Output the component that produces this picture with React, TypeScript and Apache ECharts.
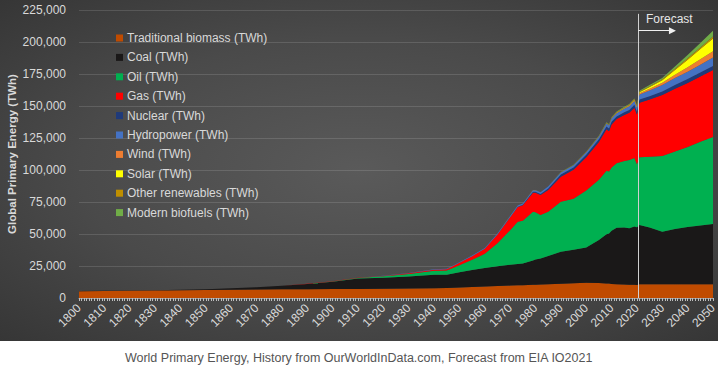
import React, { useEffect, useRef } from "react";
import * as echarts from "echarts";

const years = [
  1800, 1810, 1820, 1830, 1840, 1850, 1860, 1870, 1880, 1890,
  1900, 1910, 1920, 1930, 1940, 1945, 1950, 1955, 1960, 1965,
  1970, 1973, 1975, 1979, 1980, 1982, 1985, 1990, 1995, 2000,
  2005, 2008, 2009, 2010, 2012, 2015, 2017, 2019, 2020, 2021,
  2025, 2030, 2035, 2040, 2045, 2050,
];

const traditionalBiomass = [
  5300, 5500, 5700, 5900, 6100, 6300, 6500, 6700, 6800, 6900,
  7000, 7100, 7200, 7400, 7700, 7900, 8200, 8600, 9000, 9400,
  9700, 9900, 10000, 10300, 10400, 10500, 10800, 11200, 11600, 12000,
  11800, 11400, 11300, 11000, 10800, 10500, 10400, 10300, 10200, 10700,
  10700, 10700, 10700, 10700, 10700, 10700,
];
const coal = [
  100, 130, 170, 250, 350, 570, 1100, 1700, 2800, 4000,
  5700, 8100, 8700, 9300, 10500, 10300, 12000, 13300, 14500, 15400,
  16300, 16600, 16900, 19000, 19600, 20300, 22000, 25000, 26000, 27500,
  33500, 38500, 39000, 41500, 44000, 44500, 44000, 45500, 45000, 46300,
  44300, 41100, 43200, 44800, 46000, 47100,
];
const oil = [
  0, 0, 0, 0, 0, 0, 0, 10, 50, 100,
  230, 500, 1100, 2100, 3100, 3300, 5400, 8000, 11000, 18000,
  27000, 33000, 33500, 38000, 37000, 34000, 34500, 39000, 40000, 44500,
  47000, 49500, 48500, 49500, 50500, 52000, 53400, 53600, 49200, 53000,
  55400, 59100, 60600, 62500, 65300, 68000,
];
const gas = [
  0, 0, 0, 0, 0, 0, 0, 0, 0, 50,
  70, 150, 250, 500, 800, 1000, 2000, 2800, 4000, 6800,
  10000, 11500, 12000, 15000, 15200, 15600, 17000, 19600, 22500, 26000,
  29500, 32500, 31500, 33500, 34500, 36000, 37000, 39300, 39000, 42500,
  44600, 47700, 49000, 50000, 51000, 52300,
];
const nuclear = [
  0, 0, 0, 0, 0, 0, 0, 0, 0, 0,
  0, 0, 0, 0, 0, 0, 0, 0, 0, 20,
  150, 300, 400, 700, 750, 900, 1300, 1650, 1850, 2000,
  2150, 2150, 2150, 2150, 2000, 2050, 2100, 2200, 2150, 2500,
  2650, 2800, 2900, 3000, 3100, 3200,
];
const hydropower = [
  0, 0, 0, 0, 0, 0, 0, 0, 0, 0,
  30, 60, 120, 200, 280, 320, 400, 500, 600, 750,
  900, 1000, 1050, 1200, 1250, 1300, 1450, 1600, 1750, 1900,
  2100, 2300, 2300, 2500, 2600, 2800, 2900, 3000, 3100, 4000,
  4500, 5000, 5400, 5800, 6200, 6500,
];
const wind = [
  0, 0, 0, 0, 0, 0, 0, 0, 0, 0,
  0, 0, 0, 0, 0, 0, 0, 0, 0, 0,
  0, 0, 0, 0, 0, 0, 0, 5, 15, 20,
  70, 150, 180, 220, 350, 450, 550, 650, 700, 1000,
  1400, 1800, 2600, 3400, 4200, 5000,
];
const solar = [
  0, 0, 0, 0, 0, 0, 0, 0, 0, 0,
  0, 0, 0, 0, 0, 0, 0, 0, 0, 0,
  0, 0, 0, 0, 0, 0, 0, 0, 0, 0,
  5, 15, 25, 40, 100, 170, 250, 330, 380, 700,
  1300, 2000, 3800, 6000, 8000, 10000,
];
const otherRenewables = [
  0, 0, 0, 0, 0, 0, 0, 0, 0, 0,
  0, 0, 0, 0, 0, 0, 0, 0, 0, 0,
  50, 60, 70, 90, 100, 110, 140, 200, 240, 280,
  330, 370, 380, 400, 420, 450, 480, 500, 520, 600,
  650, 700, 900, 1100, 1300, 1500,
];
const modernBiofuels = [
  0, 0, 0, 0, 0, 0, 0, 0, 0, 0,
  0, 0, 0, 0, 0, 0, 0, 0, 0, 0,
  0, 0, 0, 0, 0, 0, 0, 100, 120, 150,
  250, 350, 380, 400, 420, 450, 480, 500, 480, 700,
  850, 1000, 1700, 2500, 3500, 4500,
];

const seriesNames = [
  "Traditional biomass (TWh)",
  "Coal (TWh)",
  "Oil (TWh)",
  "Gas (TWh)",
  "Nuclear (TWh)",
  "Hydropower (TWh)",
  "Wind (TWh)",
  "Solar (TWh)",
  "Other renewables (TWh)",
  "Modern biofuels (TWh)",
];

const seriesColors = [
  "#C04B00", "#1A1818", "#00B050", "#FF0000", "#1F3A7A",
  "#4472C4", "#ED7D31", "#FFFF00", "#BF8F00", "#70AD47",
];

const forecastYear = 2020.6;
const forecastLineTop = 222000;
const arrowLevel = 208800;
const arrowEndYear = 2034;

const caption = "World Primary Energy, History from OurWorldInData.com, Forecast from EIA IO2021";
const yAxisTitle = "Global Primary Energy (TWh)";

export default function App() {
  const ref = useRef<HTMLDivElement>(null);

  useEffect(() => {
    if (!ref.current) return;
    const chart = echarts.init(ref.current, null, { renderer: "svg" });
    const allValues = [
      traditionalBiomass, coal, oil, gas, nuclear,
      hydropower, wind, solar, otherRenewables, modernBiofuels,
    ];
    const font = "'Liberation Sans', Arial, sans-serif";
    const series: any[] = allValues.map((vals, i) => ({
      name: seriesNames[i],
      type: "line",
      stack: "total",
      // value first so that the stacked dimension is the energy value
      data: years.map((y, j) => [vals[j], y]),
      encode: { x: 1, y: 0 },
      symbol: "none",
      showSymbol: false,
      lineStyle: { width: 0, color: seriesColors[i] },
      itemStyle: { color: seriesColors[i] },
      areaStyle: { color: seriesColors[i], opacity: 1 },
      emphasis: { disabled: true },
      silent: true,
    }));
    series[series.length - 1].markLine = {
      silent: true,
      symbol: "none",
      animation: false,
      label: { show: false },
      emphasis: { disabled: true },
      data: [
        [
          { coord: [forecastYear, 0], symbol: "none", lineStyle: { color: "#d0d0d0", width: 1, type: "solid" } },
          { coord: [forecastYear, forecastLineTop], symbol: "none" },
        ],
        [
          { coord: [forecastYear, arrowLevel], symbol: "none", lineStyle: { color: "#f0f0f0", width: 1, type: "solid" } },
          { coord: [arrowEndYear, arrowLevel], symbol: "triangle", symbolSize: [7, 7] },
        ],
      ],
    };

    chart.setOption({
      animation: false,
      backgroundColor: "transparent",
      textStyle: { fontFamily: font },
      grid: { left: 79, right: 5, top: 10, bottom: 72, containLabel: false, outerBoundsMode: "none" },
      legend: {
        show: true,
        orient: "vertical",
        left: 111,
        top: 26,
        itemWidth: 7,
        itemHeight: 7,
        itemGap: 5.4,
        icon: "rect",
        data: seriesNames,
        textStyle: { color: "#d9d9d9", fontSize: 12, fontFamily: font, lineHeight: 14, padding: [0, 0, 0, -1] },
        selectedMode: false,
      },
      xAxis: {
        type: "value",
        min: 1800,
        max: 2050,
        interval: 10,
        axisLine: { show: true, lineStyle: { color: "#9a9a9a", width: 1 } },
        axisTick: { show: true, length: 3, lineStyle: { color: "#bdbdbd" } },
        minorTick: { show: true, splitNumber: 10, length: 3, lineStyle: { color: "#bdbdbd" } },
        splitLine: { show: false },
        axisLabel: {
          rotate: 45,
          color: "#d9d9d9",
          fontSize: 12,
          fontFamily: font,
          margin: 8,
          formatter: (v: number) => String(v),
          showMinLabel: true,
          showMaxLabel: true,
        },
      },
      yAxis: {
        type: "value",
        min: 0,
        max: 225000,
        interval: 25000,
        name: yAxisTitle,
        nameLocation: "middle",
        nameGap: 61,
        nameMoveOverlap: false,
        nameTextStyle: { color: "#d9d9d9", fontSize: 11.5, fontWeight: "bold", fontFamily: font },
        axisLine: { show: false },
        axisTick: { show: false },
        splitLine: { show: true, lineStyle: { color: "rgba(255,255,255,0.13)", width: 1 } },
        axisLabel: {
          color: "#d9d9d9",
          fontSize: 12,
          fontFamily: font,
          margin: 13,
          formatter: (v: number) => v.toLocaleString("en-US"),
        },
      },
      graphic: [
        {
          type: "text",
          left: 646,
          top: 13,
          silent: true,
          style: { text: "Forecast", fill: "#e6e6e6", fontSize: 12, fontFamily: font },
        },
        {
          type: "text",
          left: "center",
          top: 351,
          silent: true,
          style: { text: caption, fill: "#555555", fontSize: 12.5, fontFamily: font },
        },
      ],
      series,
    });
    return () => chart.dispose();
  }, []);

  return (
    <div style={{ position: "absolute", left: 0, top: 0, width: 718, height: 370, background: "#ffffff" }}>
      <div
        style={{
          position: "absolute",
          left: 0,
          top: 0,
          width: 718,
          height: 341,
          background: "radial-gradient(ellipse at 50% 50%, #5a5a5a 0%, #4a4a4a 55%, #363636 100%)",
        }}
      />
      <div ref={ref} style={{ position: "absolute", left: 0, top: 0, width: 718, height: 370 }} />
    </div>
  );
}
